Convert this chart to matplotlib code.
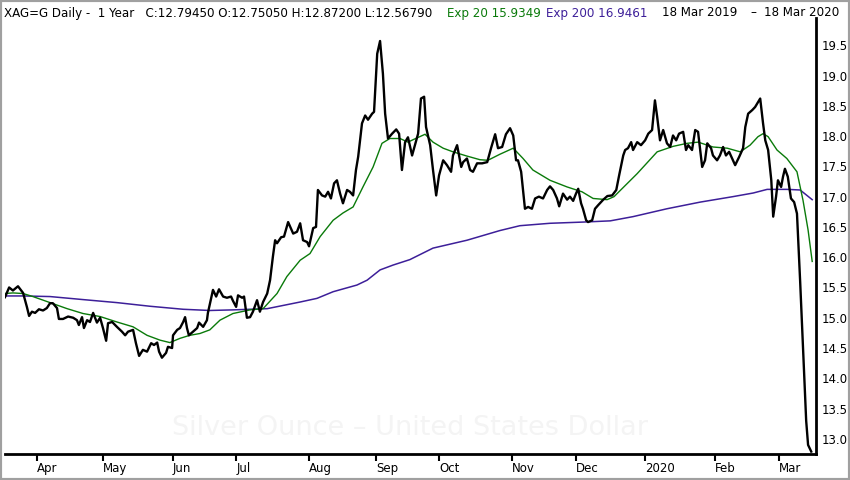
import matplotlib
matplotlib.use("Agg")
import matplotlib.pyplot as plt
from matplotlib.patches import Rectangle

# trading day number (0 = 18 Mar 2019) and daily close of silver
close_day = [
    0.0, 1.3, 2.5, 4.1, 5.7, 6.9, 7.6, 8.5, 9.5, 10.7, 12.0, 13.2, 14.2, 15.1, 16.4, 17.0,
    18.3, 19.9, 21.5, 22.7, 23.3, 24.3, 24.9, 25.9, 26.8, 27.8, 29.0, 30.0, 30.9, 31.9,
    32.5, 33.8, 35.3, 36.9, 37.9, 38.8, 40.4, 41.3, 42.3, 43.5, 44.8, 46.1, 47.0, 48.0,
    48.6, 49.5, 50.8, 51.4, 52.7, 53.0, 54.3, 55.2, 56.2, 56.8, 57.4, 58.0, 59.3, 60.6,
    61.2, 62.5, 63.7,
    64.0, 65.6, 66.6, 67.5, 68.8, 70.0, 71.3, 71.9, 72.9, 73.5, 74.8, 75.4, 76.3, 77.3,
    78.2, 79.5, 80.4, 81.4, 82.7, 83.6, 84.5, 85.2, 85.8, 87.1, 88.0, 89.3, 90.9, 92.1,
    93.1, 94.0, 95.3, 95.9, 97.2, 98.1, 98.7, 100.0, 101.0, 101.9, 102.8, 103.8, 104.7,
    105.7, 106.6, 107.9, 108.8, 109.8, 110.7, 111.4, 112.6, 113.6, 114.5, 115.8, 116.4,
    117.4, 118.3, 119.2, 119.9, 120.8, 122.1, 123.4, 124.3, 125.2, 126.2, 127.1,
    128.4, 129.3, 130.3, 131.2, 132.2, 132.8, 134.1, 135.0, 136.0, 136.9, 138.2, 139.4,
    140.7, 141.3, 142.6, 143.9, 144.5, 145.7, 146.7, 147.6, 148.9, 150.5, 152.1, 153.3,
    154.6, 155.5, 156.8, 158.0, 159.3, 160.3, 161.2, 161.8, 162.8, 164.0, 165.0, 166.2,
    167.2, 168.4, 169.7, 171.0, 171.9, 172.9, 174.1, 174.8, 176.0, 177.3, 178.2, 179.2,
    180.1, 180.8, 181.7, 182.3, 183.3, 183.9, 185.2, 186.1, 187.1,
    188.7, 190.0, 191.5, 192.8, 193.7, 195.0, 195.6, 196.5, 197.5, 198.1, 199.4, 200.6,
    201.9, 202.9, 204.1, 205.0, 205.7, 206.6, 207.6, 208.8, 209.8, 210.7, 211.7, 212.6,
    213.9, 214.8, 215.5, 216.7, 217.7, 218.6, 219.9, 220.8, 221.5, 222.7, 223.3, 224.6,
    225.5, 226.5, 227.4, 228.4, 229.6, 230.3, 231.6, 232.8, 233.5, 234.4, 235.7, 236.6,
    238.2, 239.1, 239.8, 240.7, 241.7, 242.3, 243.2, 243.8, 244.8, 245.4, 246.0, 246.9,
    247.9, 248.9, 249.8, 250.8, 251.7, 252.7, 253.3, 254.3,
]
close = [
    15.34, 15.50, 15.45, 15.52, 15.41, 15.18, 15.03, 15.10, 15.08, 15.14, 15.12, 15.16, 15.24, 15.24, 15.16, 14.98,
    14.98, 15.02, 15.00, 14.96, 14.88, 15.01, 14.83, 14.96, 14.93, 15.08, 14.92, 15.00, 14.83, 14.62,
    14.91, 14.93, 14.85, 14.77, 14.71, 14.77, 14.80, 14.58, 14.37, 14.47, 14.44, 14.58, 14.55, 14.59,
    14.44, 14.34, 14.42, 14.52, 14.50, 14.71, 14.80, 14.83, 14.93, 15.01, 14.83, 14.71, 14.77, 14.83,
    14.92, 14.85, 14.96,
    15.08, 15.46, 15.35, 15.47, 15.35, 15.33, 15.35, 15.28, 15.18, 15.37, 15.33, 15.35, 15.00, 15.01,
    15.10, 15.29, 15.10, 15.26, 15.40, 15.62, 16.01, 16.28, 16.23, 16.33, 16.34, 16.58, 16.39, 16.42,
    16.56, 16.28, 16.25, 16.18, 16.48, 16.50, 17.11, 17.02, 17.00, 17.08, 16.97, 17.22, 17.27,
    17.05, 16.89, 17.11, 17.08, 17.02, 17.44, 17.66, 18.21, 18.34, 18.27, 18.37, 18.40,
    19.36, 19.57, 19.03, 18.37, 17.96, 18.04, 18.11, 18.04, 17.44, 17.90, 17.98,
    17.68, 17.85, 18.04, 18.62, 18.65, 18.15, 17.85, 17.44, 17.02, 17.35, 17.60, 17.52,
    17.41, 17.68, 17.85, 17.49, 17.57, 17.63, 17.44, 17.41, 17.55, 17.55, 17.57, 17.80,
    18.03, 17.80, 17.82, 18.03, 18.13, 18.01, 17.60, 17.60, 17.41, 16.80, 16.83, 16.80,
    16.97, 17.00, 16.97, 17.11, 17.17, 17.11, 16.97, 16.84, 17.05, 16.95, 17.00, 16.93,
    17.05, 17.13, 16.89, 16.80, 16.61, 16.58, 16.61, 16.80, 16.86,
    16.95, 17.01, 17.02, 17.11, 17.35, 17.68, 17.77, 17.80, 17.90, 17.77, 17.90, 17.85,
    17.93, 18.04, 18.10, 18.59, 18.32, 17.93, 18.10, 17.88, 17.82, 18.01, 17.93, 18.04,
    18.07, 17.77, 17.85, 17.77, 18.10, 18.07, 17.49, 17.60, 17.88, 17.80, 17.68, 17.60,
    17.68, 17.82, 17.68, 17.74, 17.60, 17.52, 17.66, 17.80, 18.15, 18.37, 18.43, 18.48,
    18.62, 18.21, 17.93, 17.77, 17.27, 16.67, 17.00, 17.27, 17.16, 17.33, 17.46, 17.33,
    16.97, 16.91, 16.72, 15.60, 14.50, 13.30, 12.90, 12.79,
]

# 20 day exponential average
ema20_day = [0.0, 2.5, 5.7, 8.8, 14.2, 19.6, 24.6, 30.0, 35.3, 40.4, 44.8, 48.9, 52.0, 55.2,
             58.3, 61.5, 64.6, 67.8, 71.9, 77.3, 81.4, 85.8, 88.9, 93.1, 96.2, 99.4, 103.5,
             106.6, 109.8, 112.9, 116.1, 118.9, 121.4, 124.6, 127.1, 128.7, 132.5, 135.0,
             138.2, 141.3, 145.7, 149.8, 152.3, 156.1, 160.3, 163.4, 166.5, 171.9, 177.3,
             182.0, 185.5, 189.9, 192.1, 199.4, 205.7, 210.7, 215.1, 218.6, 223.3, 227.8,
             231.9, 235.0, 237.5, 239.1, 240.7, 243.5, 246.6, 249.8, 251.7, 253.3, 254.6]
ema20 = [15.40, 15.41, 15.40, 15.35, 15.25, 15.15, 15.07, 15.02, 14.93, 14.85, 14.71, 14.63,
         14.59, 14.66, 14.71, 14.74, 14.80, 14.96, 15.07, 15.13, 15.15, 15.40, 15.68, 15.95,
         16.06, 16.34, 16.61, 16.73, 16.83, 17.16, 17.49, 17.88, 17.96, 17.96, 17.90, 17.94,
         18.03, 17.90, 17.80, 17.74, 17.67, 17.61, 17.60, 17.70, 17.80, 17.63, 17.44, 17.27,
         17.16, 17.08, 16.97, 16.95, 17.00, 17.38, 17.74, 17.83, 17.88, 17.90, 17.82, 17.80,
         17.74, 17.85, 17.99, 18.04, 17.99, 17.77, 17.63, 17.41, 16.94, 16.45, 15.93]

# 200 day exponential average
ema200_day = [0.0, 5.7, 14.2, 24.6, 35.3, 45.7, 56.2, 64.6, 71.9, 82.7, 93.1, 98.4, 103.5,
              111.0, 114.2, 118.3, 122.4, 127.7, 135.0, 145.7, 156.1, 162.4, 171.9, 182.3,
              190.9, 198.1, 208.8, 219.3, 229.6, 236.0, 240.4, 246.6, 250.8, 254.6]
ema200 = [15.36, 15.36, 15.35, 15.30, 15.25, 15.19, 15.14, 15.12, 15.13, 15.15, 15.26, 15.32,
          15.43, 15.54, 15.62, 15.79, 15.87, 15.96, 16.15, 16.28, 16.44, 16.52, 16.56, 16.58,
          16.60, 16.67, 16.80, 16.91, 17.00, 17.06, 17.12, 17.12, 17.11, 16.95]

month_day = [10, 31, 53, 73, 96, 117, 137, 160, 180, 202, 224, 244]
month_lbl = ["Apr", "May", "Jun", "Jul", "Aug", "Sep", "Oct", "Nov", "Dec", "2020", "Feb", "Mar"]
price_ticks = [13.0, 13.5, 14.0, 14.5, 15.0, 15.5, 16.0, 16.5, 17.0, 17.5, 18.0, 18.5, 19.0, 19.5]

GREEN = "#0a7a0a"
PURPLE = "#3d1f99"

fig = plt.figure(figsize=(8.5, 4.8), dpi=100)
ax = fig.add_axes([5 / 850, 1 - 454 / 480, 811 / 850, 436 / 480])

# faint watermark
ax.text(0.5, 0.06, "Silver Ounce \u2013 United States Dollar", transform=ax.transAxes,
        ha="center", va="center", fontsize=19.5, color="#f4f4f4", zorder=0)

ax.plot(ema200_day, ema200, color=PURPLE, lw=1.1, zorder=2)
ax.plot(ema20_day, ema20, color=GREEN, lw=1.0, zorder=3)
ax.plot(close_day, close, color="black", lw=1.7, zorder=4)

ax.set_xlim(0, 255.8)
ax.set_ylim(12.75, 19.95)

for s in ["top", "left"]:
    ax.spines[s].set_visible(False)
ax.spines["bottom"].set_linewidth(2)
ax.spines["right"].set_linewidth(2)

ax.yaxis.tick_right()
ax.set_yticks(price_ticks)
ax.set_yticklabels(["%.1f" % v for v in price_ticks])
ax.tick_params(axis="y", length=0, pad=4, labelsize=8.5)

ax.set_xticks(month_day)
ax.set_xticklabels(month_lbl)
ax.tick_params(axis="x", length=5, width=1.5, pad=1, labelsize=8.5)
for lbl in ax.get_xticklabels():
    lbl.set_horizontalalignment("left")

# header line
hy = 1 - 13 / 480
fig.text(4 / 850, hy, "XAG=G Daily -  1 Year   C:12.79450 O:12.75050 H:12.87200 L:12.56790",
         fontsize=8.6, va="center", ha="left")
fig.text(447 / 850, hy, "Exp 20 15.9349", fontsize=8.6, va="center", ha="left", color=GREEN)
fig.text(546 / 850, hy, "Exp 200 16.9461", fontsize=8.6, va="center", ha="left", color=PURPLE)
fig.text(662 / 850, hy, "18 Mar 2019", fontsize=8.6, va="center", ha="left")
fig.text(750 / 850, hy, "\u2013", fontsize=8.6, va="center", ha="left")
fig.text(764 / 850, hy, "18 Mar 2020", fontsize=8.6, va="center", ha="left")

# grey frame round the picture
fig.patches.append(Rectangle((0, 0), 1, 1, transform=fig.transFigure, fill=False,
                             edgecolor="#a0a0a0", lw=3))

fig.savefig("out.png", dpi=100)
